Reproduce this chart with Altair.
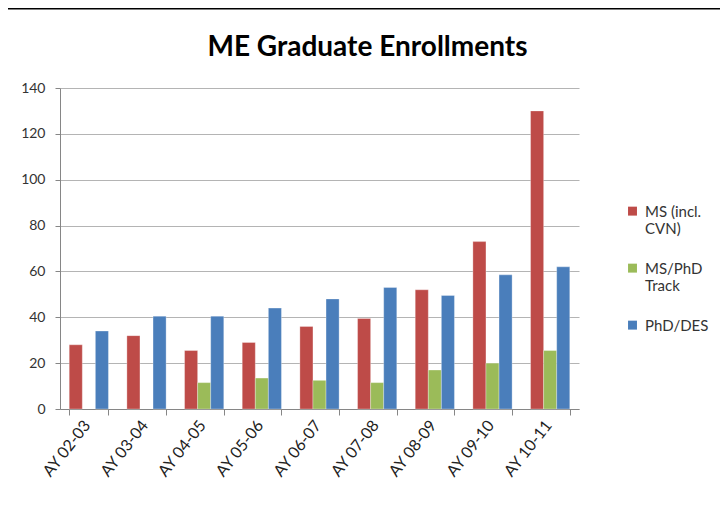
import altair as alt
import pandas as pd

categories = ["AY 02-03", "AY 03-04", "AY 04-05", "AY 05-06", "AY 06-07",
              "AY 07-08", "AY 08-09", "AY 09-10", "AY 10-11"]
series = ["MS (incl. CVN)", "MS/PhD Track", "PhD/DES"]
ms_vals = [28, 32, 25.5, 29, 36, 39.5, 52, 73, 130]
track_vals = [None, None, 11.5, 13.5, 12.5, 11.5, 17, 20, 25.5]
phd_vals = [34, 40.5, 40.5, 44, 48, 53, 49.5, 58.5, 62]
colors = ["#BE4B48", "#9BBB59", "#4A7EBB"]

rows = []
for i, c in enumerate(categories):
    for s, vals in zip(series, [ms_vals, track_vals, phd_vals]):
        if vals[i] is not None:
            rows.append({"year": c, "series": s, "value": vals[i]})
df = pd.DataFrame(rows)

FONT = "Lato"

bars = alt.Chart(df).mark_bar(stroke="white", strokeOpacity=0.5, strokeWidth=0.6).encode(
    x=alt.X("year:N", sort=categories,
            scale=alt.Scale(paddingInner=0.32, paddingOuter=0.16),
            axis=alt.Axis(title=None, labelAngle=-52, labelAlign="right",
                          labelBaseline="middle", labelFontSize=16,
                          labelColor="#222222", labelFont=FONT,
                          labelPadding=7, labelOffset=-2,
                          tickBand="extent", tickSize=6, tickColor="#868686",
                          domainColor="#868686", grid=False)),
    xOffset=alt.XOffset("series:N", sort=series, scale=alt.Scale(domain=series)),
    y=alt.Y("value:Q", scale=alt.Scale(domain=[0, 140]),
            axis=alt.Axis(title=None, values=list(range(0, 141, 20)),
                          labelFontSize=14, labelColor="#333333", labelFont=FONT,
                          labelPadding=10, tickSize=5, tickColor="#868686",
                          domainColor="#868686", gridColor="#B4B4B4",
                          gridWidth=1.2)),
    color=alt.Color("series:N", sort=series,
                    scale=alt.Scale(domain=series, range=colors),
                    legend=alt.Legend(title=None, orient="none",
                                      legendX=565, legendY=121,
                                      symbolType="M-1,-2.2H1V-0.2H-1Z", symbolSize=80,
                                      symbolStrokeWidth=0,
                                      labelFontSize=15, labelColor="#333333",
                                      labelFont=FONT, labelLimit=200,
                                      labelBaseline="alphabetic", labelOffset=5,
                                      labelExpr="split(replace(replace(datum.label, 'incl. ', 'incl.|'), 'PhD T', 'PhD|T'), '|')",
                                      rowPadding=24, padding=0)),
)

topline = alt.Chart(pd.DataFrame({"v": [0]})).mark_rule(color="black", strokeWidth=3).encode(
    x=alt.value(-60), x2=alt.value(700), y=alt.value(-80)
)

chart = alt.layer(bars, topline).properties(
    width=519, height=321,
    autosize=alt.AutoSizeParams(type="none"),
    padding={"left": 52, "top": 80, "right": 141, "bottom": 91},
    title=alt.TitleParams("ME Graduate Enrollments", fontSize=28, fontWeight="bold",
                          font=FONT, color="black", anchor="middle", frame="group",
                          baseline="alphabetic", offset=0, dy=77, dx=48),
).configure_view(stroke=None).configure_axis(labelLimit=200)

chart.save("out.html", embed_options={"renderer": "svg", "actions": False})
